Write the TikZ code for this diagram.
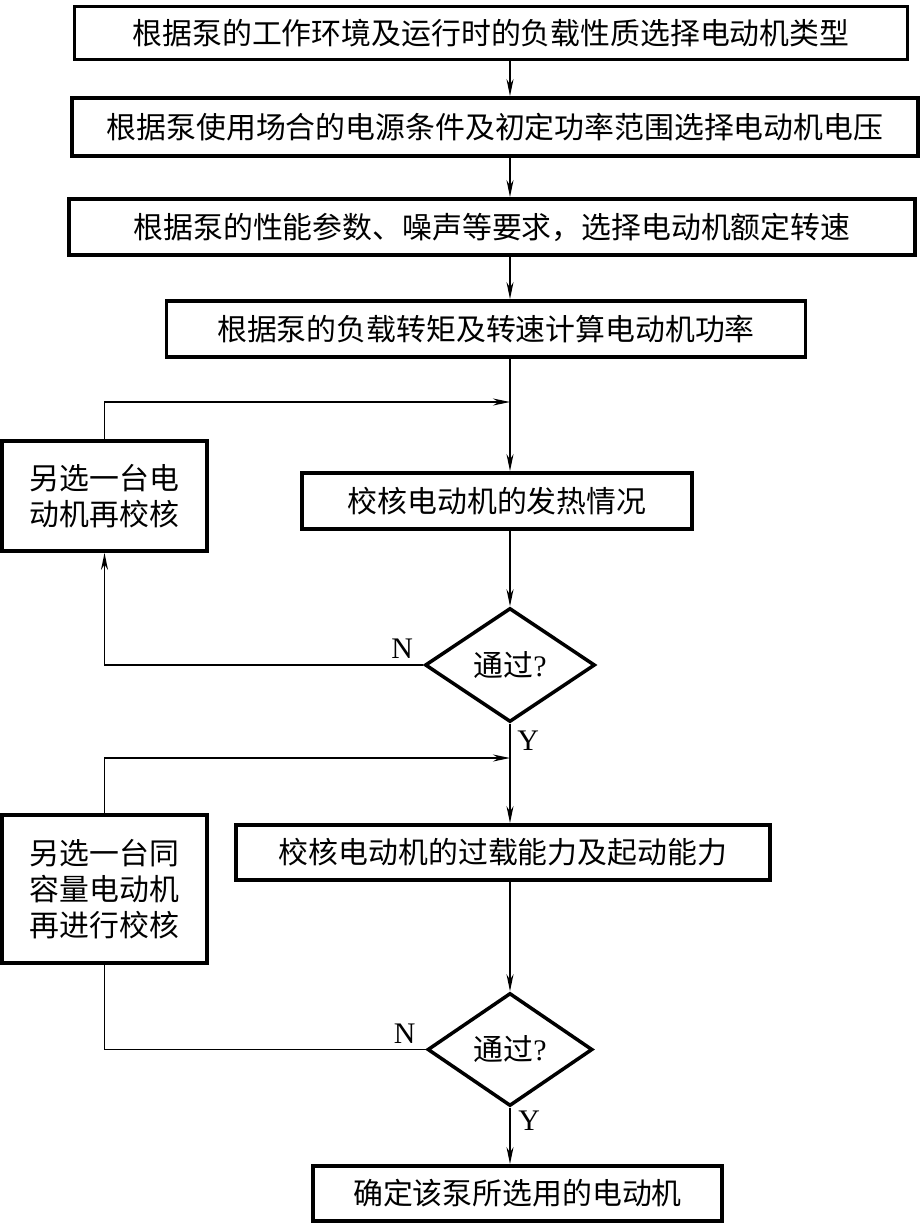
\documentclass[tikz,border=0pt]{standalone}
\usepackage{fontspec}
\setmainfont{Liberation Serif}
\newfontfamily\cjk{Noto Sans CJK SC}
\usetikzlibrary{arrows.meta,positioning,shapes.geometric}

\begin{document}
\begin{tikzpicture}[
  font=\fontsize{17}{20.5}\selectfont,
  >={Stealth[length=3.4mm,width=1.4mm]},
  edge/.style={->,line width=0.9pt},
  wire/.style={line width=0.9pt},
  stepbox/.style={draw,line width=2.2pt,align=center,inner sep=0pt,
                  font=\cjk\fontsize{17}{20.5}\selectfont},
  test/.style={diamond,draw,line width=2pt,inner sep=0pt,
               minimum width=3.4cm,minimum height=2.28cm},
  lbl/.style={inner sep=0pt}
]
\useasboundingbox (0,0) rectangle (18.48,-24.48);

\node[stepbox,minimum width=16.66cm,minimum height=1.06cm] (kind) at (9.82,-0.66)
  {根据泵的工作环境及运行时的负载性质选择电动机类型};
\node[stepbox,minimum width=16.92cm,minimum height=1.16cm] (volt) at (9.90,-2.54)
  {根据泵使用场合的电源条件及初定功率范围选择电动机电压};
\node[stepbox,minimum width=16.92cm,minimum height=1.12cm] (speed) at (9.84,-4.54)
  {根据泵的性能参数、噪声等要求，选择电动机额定转速};
\node[stepbox,minimum width=12.78cm,minimum height=1.12cm] (power) at (9.72,-6.58)
  {根据泵的负载转矩及转速计算电动机功率};
\node[stepbox,minimum width=7.80cm,minimum height=1.12cm] (heat) at (9.94,-10.02)
  {校核电动机的发热情况};
\node[test] (pass1) at (10.20,-13.30) {{\cjk 通过}?};
\node[stepbox,minimum width=10.68cm,minimum height=1.10cm] (load) at (10.06,-17.05)
  {校核电动机的过载能力及起动能力};
\node[test,minimum width=3.3cm,minimum height=2.26cm] (pass2) at (10.20,-20.99) {{\cjk 通过}?};
\node[stepbox,minimum width=8.18cm,minimum height=1.10cm] (done) at (10.35,-23.87)
  {确定该泵所选用的电动机};

\node[stepbox,minimum width=4.10cm,minimum height=2.20cm] (altA) at (2.09,-9.92)
  {另选一台电\\动机再校核};
\node[stepbox,minimum width=4.10cm,minimum height=2.96cm] (altB) at (2.09,-17.78)
  {另选一台同\\容量电动机\\再进行校核};

\coordinate (join1) at (10.20,-8.04);
\coordinate (join2) at (10.20,-15.16);

\node[lbl,above left=0.12cm and 0.2cm of pass1.west] {N};
\node[lbl,below right=0.14cm and 0.14cm of pass1.south] {Y};
\node[lbl,above left=0.12cm and 0.2cm of pass2.west] {N};
\node[lbl,below right=0.06cm and 0.16cm of pass2.south] {Y};

\draw[edge] (kind.south -| pass1) -- (volt.north -| pass1);
\draw[edge] (volt.south -| pass1) -- (speed.north -| pass1);
\draw[edge] (speed.south -| pass1) -- (power.north -| pass1);
\draw[edge] (power.south -| pass1) -- (heat.north -| pass1);
\draw[edge] (heat.south -| pass1) -- (pass1.north);
\draw[edge] (pass1.west) -| (altA.south);
\draw[edge] (altA.north) |- (join1);
\draw[edge] (pass1.south) -- (load.north -| pass1);
\draw[wire] (pass2.west) -| (altB.south);
\draw[edge] (altB.north) |- (join2);
\draw[edge] (load.south -| pass2) -- (pass2.north);
\draw[edge] (pass2.south) -- (done.north -| pass2);
\end{tikzpicture}
\end{document}
